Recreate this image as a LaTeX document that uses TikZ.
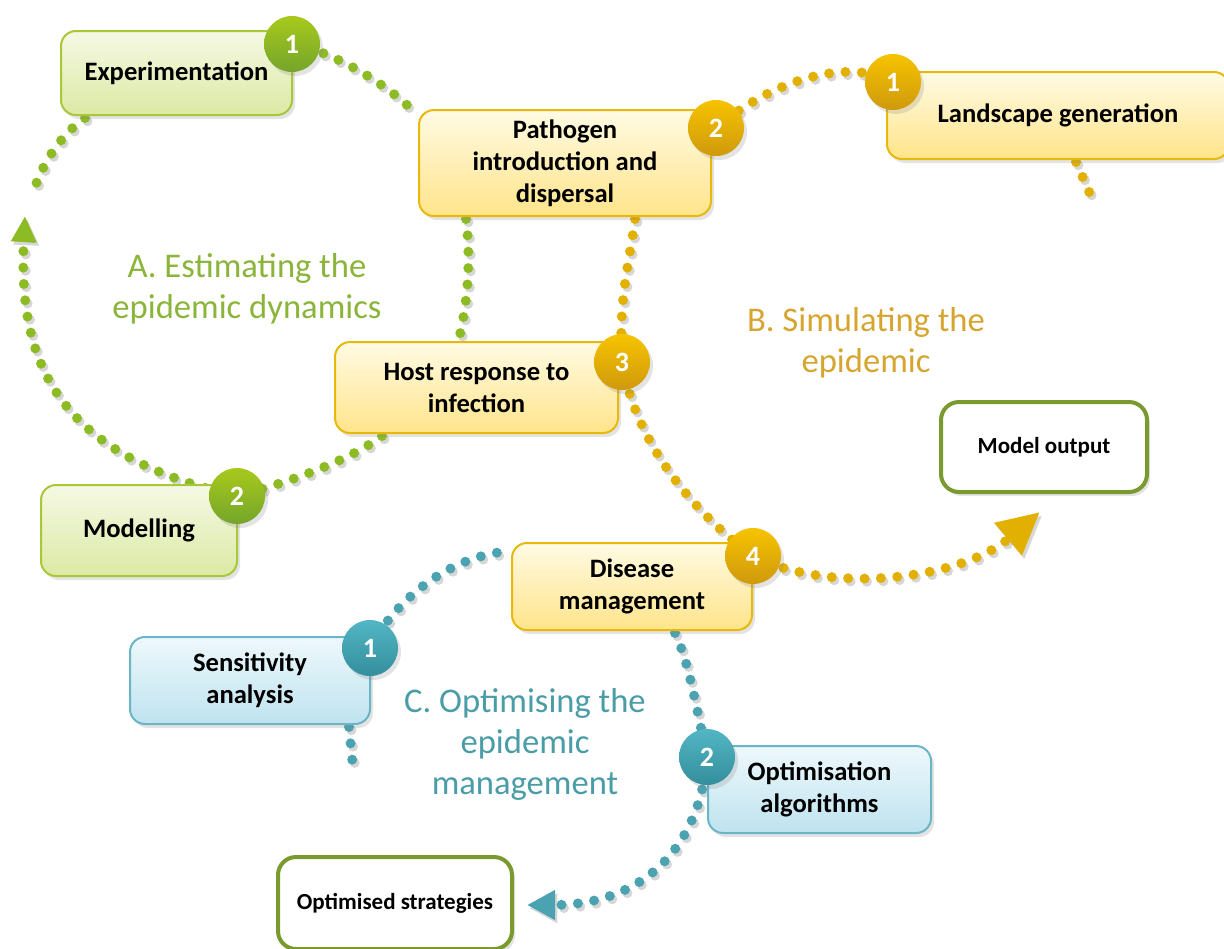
\documentclass[tikz,border=0pt]{standalone}
\usepackage{fontspec}
\setmainfont{Carlito}
\usetikzlibrary{shadows,arrows.meta,calc}

\definecolor{gline}{HTML}{8DBB24}
\definecolor{yline}{HTML}{E2B000}
\definecolor{tline}{HTML}{4BA3B2}
\definecolor{gtxt}{HTML}{8AB53A}
\definecolor{ytxt}{HTML}{D6A52F}
\definecolor{ttxt}{HTML}{4A9CA6}
\definecolor{gtop}{HTML}{F5F9E4}
\definecolor{gbot}{HTML}{DCE9A4}
\definecolor{gedge}{HTML}{A8C83A}
\definecolor{ytop}{HTML}{FFFBE4}
\definecolor{ybot}{HTML}{FFE48A}
\definecolor{yedge}{HTML}{E8B80A}
\definecolor{ttop}{HTML}{EEF8FC}
\definecolor{tbot}{HTML}{BFE3EF}
\definecolor{tedge}{HTML}{6AB6C6}
\definecolor{oedge}{HTML}{7A9A30}
\definecolor{gnumtop}{HTML}{A8C91C}
\definecolor{gnumbot}{HTML}{74A52B}
\definecolor{ynumtop}{HTML}{F6C300}
\definecolor{ynumbot}{HTML}{CF990C}
\definecolor{tnumtop}{HTML}{52B6C4}
\definecolor{tnumbot}{HTML}{348E9C}

\pgfdeclarelayer{bg}
\pgfsetlayers{bg,main}

\tikzset{
  shade/.style={drop shadow={shadow xshift=1.5pt,shadow yshift=-2pt,opacity=0.22}},
  stepbox/.style={rectangle, rounded corners=7.5pt, line width=1pt, align=center,
    inner sep=2pt, shade, font=\bfseries\fontsize{13.3}{16}\selectfont},
  gbox/.style={stepbox, draw=gedge, top color=gtop, bottom color=gbot},
  ybox/.style={stepbox, draw=yedge, top color=ytop, bottom color=ybot},
  tbox/.style={stepbox, draw=tedge, top color=ttop, bottom color=tbot},
  obox/.style={rectangle, rounded corners=9pt, line width=2pt, draw=oedge, fill=white,
    align=center, shade, font=\bfseries\fontsize{11.5}{13.5}\selectfont},
  numc/.style={circle, minimum size=28pt, inner sep=0pt, text=white, shade,
    font=\bfseries\fontsize{14}{16}\selectfont},
  gnum/.style={numc, top color=gnumtop, bottom color=gnumbot},
  ynum/.style={numc, top color=ynumtop, bottom color=ynumbot},
  tnum/.style={numc, top color=tnumtop, bottom color=tnumbot},
  lab/.style={align=center, font=\fontsize{17.3}{20.5}\selectfont},
  dotpen/.style={line width=5pt, line cap=round, dash pattern=on 0pt off 8.2pt},
  dotline/.style={dotpen,
    preaction={draw=black, draw opacity=0.16, dotpen,
      transform canvas={xshift=1.2pt,yshift=-1.6pt}}},
}

\begin{document}
\begin{tikzpicture}[x=0.5pt,y=-0.5pt]
\path[use as bounding box] (0,0) rectangle (1224,948);
\clip (0,0) rectangle (1224,948);

% step boxes
\node[gbox, minimum width=115.5pt, minimum height=42pt] (exp) at (176.5,73) {Experimentation};
\node[ybox, minimum width=146pt, minimum height=53pt] (pth) at (565,163) {Pathogen\\introduction and\\dispersal};
\node[ybox, minimum width=171pt, minimum height=43.5pt] (land) at (1058,115.5) {Landscape generation};
\node[ybox, minimum width=141.5pt, minimum height=45.5pt] (host) at (476.5,387.5) {Host response to\\infection};
\node[gbox, minimum width=98pt, minimum height=45.5pt] (mod) at (139,530.5) {Modelling};
\node[ybox, minimum width=120pt, minimum height=43.5pt] (dis) at (632,586.5) {Disease\\management};
\node[tbox, minimum width=120pt, minimum height=43.5pt] (sens) at (250,680.5) {Sensitivity\\analysis};
\node[tbox, minimum width=111.5pt, minimum height=43.5pt] (opt) at (819.5,789.5) {Optimisation\\algorithms};

% result boxes
\node[obox, minimum width=103pt, minimum height=45pt] (out) at (1044,447) {Model output};
\node[obox, minimum width=117pt, minimum height=46pt] (strat) at (395,903) {Optimised strategies};

% numbered badges
\node[gnum] (g1) at (292,44) {1};
\node[gnum] (g2) at (237,496) {2};
\node[ynum] (y1) at (893,82) {1};
\node[ynum] (y2) at (716,128) {2};
\node[ynum] (y3) at (622,362) {3};
\node[ynum] (y4) at (753,556) {4};
\node[tnum] (t1) at (370,648) {1};
\node[tnum] (t2) at (707,757) {2};

% section titles
\node[lab, text=gtxt] (labA) at (247,289) {A. Estimating the\\epidemic dynamics};
\node[lab, text=ytxt] (labB) at (866,343) {B. Simulating the\\epidemic};
\node[lab, text=ttxt] (labC) at (525,744) {C. Optimising the\\epidemic\\management};

% free ends of the dotted paths
\coordinate (gtip) at (25,216);
\coordinate (gend) at (34,190);
\coordinate (yend) at (1094,203);
\coordinate (ytip) at (1040,512);
\coordinate (tend) at (353,768);
\coordinate (ttip) at (527,905);

\begin{pgfonlayer}{bg}
% A: estimation loop
\draw[dotline, draw=gline] (g1.center) .. controls (330,50) and (390,85) .. ($(pth.north west)+(0,7)$);
\draw[dotline, draw=gline] ($(pth.south west)+(48,2)$) .. controls (471,260) and (468,300) .. ($(host.north west)+(125,-2)$);
\draw[dotline, draw=gline] ($(host.south west)+(48,2)$) .. controls (350,460) and (290,482) .. (g2.center);
\draw[dotline, draw=gline, -{Triangle[width=12pt,length=13pt]}] (g2.center) .. controls (55,455) and (18,360) .. (gtip);
\draw[dotline, draw=gline] ($(exp.south west)+(25,2)$) .. controls (60,135) and (42,165) .. (gend);
% B: simulation chain
\draw[dotline, draw=yline] ($(land.south west)+(190,2)$) -- (yend);
\draw[dotline, draw=yline] (y1.center) .. controls (850,58) and (775,78) .. (y2.center);
\draw[dotline, draw=yline] ($(pth.south west)+(217,2)$) .. controls (630,260) and (618,300) .. (y3.center);
\draw[dotline, draw=yline] (y3.center) .. controls (635,440) and (690,510) .. (y4.center);
\draw[dotline, draw=yline, -{Triangle[width=20pt,length=21pt]}] (y4.center) .. controls (830,595) and (960,580) .. (ytip);
% C: optimisation chain
\draw[dotline, draw=tline] (t1.center) .. controls (395,600) and (450,555) .. ($(dis.north west)+(0,9)$);
\draw[dotline, draw=tline] ($(sens.south east)+(-22,2)$) -- (tend);
\draw[dotline, draw=tline] ($(dis.south west)+(164,2)$) .. controls (688,660) and (695,700) .. (t2.center);
\draw[dotline, draw=tline, -{Triangle[width=14pt,length=14pt]}] (t2.center) .. controls (700,850) and (640,905) .. (ttip);
\end{pgfonlayer}
\end{tikzpicture}
\end{document}
